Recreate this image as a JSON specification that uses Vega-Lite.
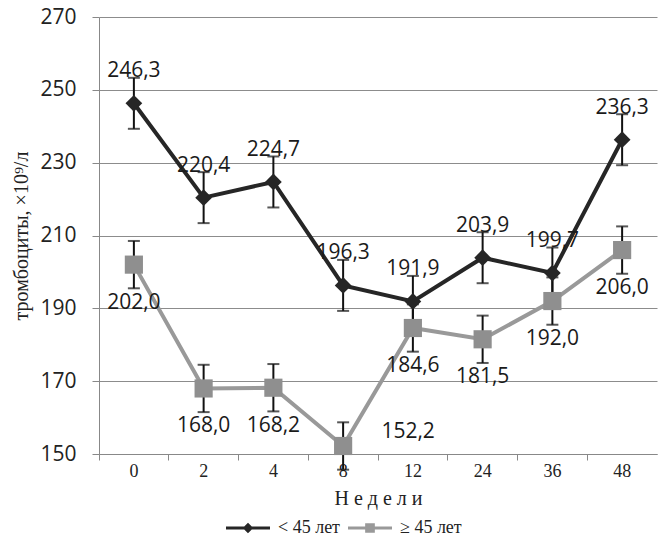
{
  "$schema": "https://vega.github.io/schema/vega-lite/v6.json",
  "width": 558,
  "height": 437,
  "autosize": "none",
  "padding": {"left": 99, "top": 17, "right": 10, "bottom": 92},
  "background": "white",
  "data": {
    "values": [
      {"week": "0", "group": "< 45 лет", "value": 246.3, "lo": 239.3, "hi": 253.3},
      {"week": "2", "group": "< 45 лет", "value": 220.4, "lo": 213.4, "hi": 227.4},
      {"week": "4", "group": "< 45 лет", "value": 224.7, "lo": 217.7, "hi": 231.7},
      {"week": "8", "group": "< 45 лет", "value": 196.3, "lo": 189.3, "hi": 203.3},
      {"week": "12", "group": "< 45 лет", "value": 191.9, "lo": 184.9, "hi": 198.9},
      {"week": "24", "group": "< 45 лет", "value": 203.9, "lo": 196.9, "hi": 210.9},
      {"week": "36", "group": "< 45 лет", "value": 199.7, "lo": 192.7, "hi": 206.7},
      {"week": "48", "group": "< 45 лет", "value": 236.3, "lo": 229.3, "hi": 243.3},
      {"week": "0", "group": "≥ 45 лет", "value": 202.0, "lo": 195.5, "hi": 208.5},
      {"week": "2", "group": "≥ 45 лет", "value": 168.0, "lo": 161.5, "hi": 174.5},
      {"week": "4", "group": "≥ 45 лет", "value": 168.2, "lo": 161.7, "hi": 174.7},
      {"week": "8", "group": "≥ 45 лет", "value": 152.2, "lo": 145.7, "hi": 158.7},
      {"week": "12", "group": "≥ 45 лет", "value": 184.6, "lo": 178.1, "hi": 191.1},
      {"week": "24", "group": "≥ 45 лет", "value": 181.5, "lo": 175.0, "hi": 188.0},
      {"week": "36", "group": "≥ 45 лет", "value": 192.0, "lo": 185.5, "hi": 198.5},
      {"week": "48", "group": "≥ 45 лет", "value": 206.0, "lo": 199.5, "hi": 212.5}
    ]
  },
  "encoding": {
    "x": {
      "field": "week", "type": "nominal",
      "sort": ["0", "2", "4", "8", "12", "24", "36", "48"],
      "scale": {"paddingInner": 0, "paddingOuter": 0},
      "axis": {
        "title": "Н е д е л и",
        "titleFont": "Liberation Serif", "titleFontSize": 20, "titleFontWeight": "normal",
        "titleColor": "#222", "titlePadding": 8,
        "labelFont": "Liberation Serif", "labelFontSize": 18, "labelColor": "#222",
        "labelAngle": 0, "labelPadding": 2,
        "bandPosition": 0, "tickColor": "#888", "tickSize": 6,
        "domainColor": "#888", "grid": false
      }
    },
    "y": {
      "field": "value", "type": "quantitative",
      "scale": {"domain": [150, 270], "nice": false, "zero": false},
      "axis": {
        "title": "тромбоциты, ×10⁹/л",
        "titleFont": "Liberation Serif", "titleFontSize": 20, "titleFontWeight": "normal",
        "titleColor": "#222", "titlePadding": 8,
        "values": [150, 170, 190, 210, 230, 250, 270],
        "labelFont": "Open Sans", "labelFontSize": 21, "labelColor": "#222",
        "labelPadding": 16, "tickColor": "#888", "tickSize": 7,
        "domainColor": "#888",
        "grid": true, "gridColor": "#8c8c8c", "gridWidth": 1
      }
    }
  },
  "layer": [
    {
      "mark": {"type": "line", "strokeWidth": 4},
      "encoding": {
        "color": {"field": "group", "type": "nominal",
          "scale": {"domain": ["< 45 лет", "≥ 45 лет"], "range": ["#262626", "#999999"]},
          "legend": {
            "title": null, "orient": "none", "legendX": 127, "legendY": 489,
            "direction": "horizontal",
            "symbolSize": 1936, "symbolStrokeWidth": 0, "symbolType": "square",
            "labelFont": "Liberation Serif", "labelFontSize": 18, "labelColor": "#222",
            "labelOffset": 8, "columnPadding": 8,
            "encode": {"symbols": {"update": {
              "shape": {"signal": "datum.value === '< 45 лет' ? 'M-1,-0.07L1,-0.07L1,0.07L-1,0.07Z M0,-0.24L0.24,0L0,0.24L-0.24,0Z' : 'M-1,-0.07L1,-0.07L1,0.07L-1,0.07Z M-0.22,-0.22L0.22,-0.22L0.22,0.22L-0.22,0.22Z'"},
              "fill": {"signal": "datum.value === '< 45 лет' ? '#262626' : '#999999'"},
              "stroke": {"value": "transparent"},
              "opacity": {"value": 1}
            }}, "labels": {"update": {"fontSize": {"value": 18}}}}
          }}
      }
    },
    {
      "mark": {"type": "errorbar", "color": "#111", "thickness": 2, "ticks": {"size": 12, "thickness": 2, "color": "#111"}},
      "encoding": {
        "y": {"field": "lo", "type": "quantitative"},
        "y2": {"field": "hi"}
      }
    },
    {
      "transform": [{"filter": "datum.group === '< 45 лет'"}],
      "mark": {"type": "point", "filled": true, "opacity": 1, "shape": "diamond", "size": 280, "color": "#262626"}
    },
    {
      "transform": [{"filter": "datum.group !== '< 45 лет'"}],
      "mark": {"type": "point", "filled": true, "opacity": 1, "shape": "square", "size": 330, "color": "#8f8f8f"}
    },
    {
      "transform": [{"filter": "datum.group === '< 45 лет'"}],
      "mark": {"type": "text", "font": "Open Sans", "fontSize": 21, "color": "#1a1a1a", "baseline": "alphabetic", "dy": -26},
      "encoding": {"text": {"field": "value", "type": "quantitative", "format": ".1f"}}
    },
    {
      "transform": [{"filter": "datum.group !== '< 45 лет' && datum.week !== '8'"}],
      "mark": {"type": "text", "font": "Open Sans", "fontSize": 21, "color": "#1a1a1a", "baseline": "alphabetic", "dy": 44},
      "encoding": {"text": {"field": "value", "type": "quantitative", "format": ".1f"}}
    },
    {
      "transform": [{"filter": "datum.group !== '< 45 лет' && datum.week === '8'"}],
      "mark": {"type": "text", "font": "Open Sans", "fontSize": 21, "color": "#1a1a1a", "baseline": "alphabetic", "dx": 65, "dy": -8},
      "encoding": {"text": {"field": "value", "type": "quantitative", "format": ".1f"}}
    }
  ],
  "config": {
    "locale": {"number": {"decimal": ",", "thousands": " ", "grouping": [3], "currency": ["", ""]}},
    "view": {"stroke": null}
  }
}
